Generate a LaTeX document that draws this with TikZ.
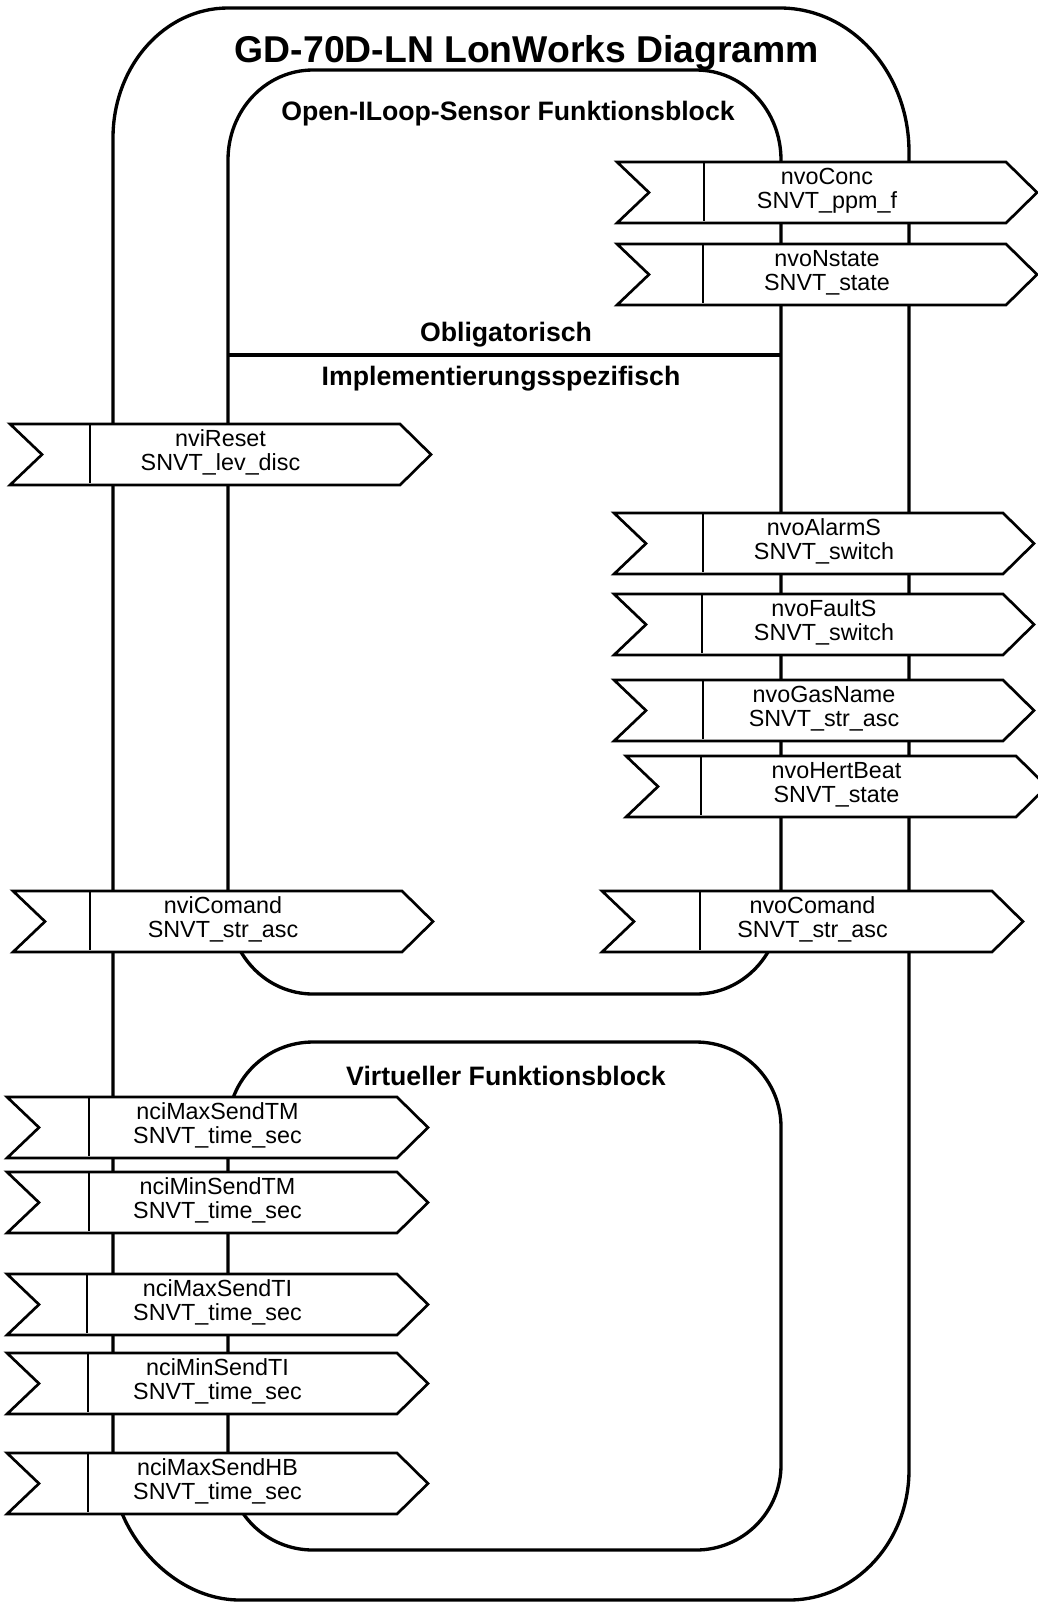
\documentclass[tikz,border=0pt]{standalone}
\usepackage{fontspec}
\setmainfont{Liberation Sans}
\tikzset{
  container/.style={line width=2.5pt, line join=round},
  tagline/.style={line width=2pt},
  tagtext/.style={anchor=base, inner sep=0pt, font=\fontsize{17.5}{18}\selectfont},
  titletext/.style={anchor=base, inner sep=0pt, font=\fontsize{20}{22}\selectfont\bfseries},
}
\newcommand\sigtag[7]{%
  \draw[tagline,fill=white] (#2,#3) -- (#5,#3) -- ({#5+31},{#3+30.5}) -- (#5,{#3+61}) -- (#2,{#3+61}) -- ({#2+32},{#3+30.5}) -- cycle;
  \draw[tagline] (#4,{#3-1}) -- (#4,{#3+59});
  \node[tagtext] (#1-a) at ({(#2+#5+31)/2},{#3+22}) {#6};
  \node[tagtext] (#1-b) at ({(#2+#5+31)/2},{#3+46}) {#7};
}
\begin{document}
\begin{tikzpicture}[x=0.75pt, y=-0.75pt]
\useasboundingbox (0,0) rectangle (1038,1603);
\fill[white] (0,0) rectangle (1038,1603);
% outer box
\draw[container] (113,138) .. controls (113,66) and (164.5,8) .. (228,8)
  -- (780,8) .. controls (851,8) and (909,72) .. (909,152)
  -- (909,1470) .. controls (909,1542) and (855,1600) .. (789,1600)
  -- (240,1600) .. controls (170,1600) and (113,1529) .. (113,1471) -- cycle;
% Open-ILoop-Sensor block
\draw[container] (228,160) .. controls (228,110) and (266,70) .. (313,70)
  -- (696,70) .. controls (743,70) and (781,110) .. (781,160)
  -- (781,904) .. controls (781,954) and (743,994) .. (696,994)
  -- (313,994) .. controls (266,994) and (228,954) .. (228,904) -- cycle;
% divider
\coordinate (divL) at (228,355);
\coordinate (divR) at (781,355);
\draw[line width=3pt] (divL) -- (divR);
% virtual block
\draw[container] (228,1127) .. controls (228,1080) and (266,1042) .. (313,1042)
  -- (696,1042) .. controls (743,1042) and (781,1080) .. (781,1127)
  -- (781,1465) .. controls (781,1512) and (743,1550) .. (696,1550)
  -- (313,1550) .. controls (266,1550) and (228,1512) .. (228,1465) -- cycle;
% titles
\node[anchor=base, inner sep=0pt, font=\fontsize{28}{30}\selectfont\bfseries] (title) at (527,62) {GD-70D-LN LonWorks Diagramm};
\node[titletext] (openblock) at (508,120) {Open-ILoop-Sensor Funktionsblock};
\node[titletext] (oblig) at (506,341) {Obligatorisch};
\node[titletext] (impl) at (501,385) {Implementierungsspezifisch};
\node[titletext] (virt) at (506,1085) {Virtueller Funktionsblock};
% right tags
\sigtag{nvoConc}{617}{162}{704}{1006}{nvoConc}{SNVT\_ppm\_f}
\sigtag{nvoNstate}{617}{244}{703}{1006}{nvoNstate}{SNVT\_state}
\sigtag{nvoAlarmS}{614}{513}{703}{1003}{nvoAlarmS}{SNVT\_switch}
\sigtag{nvoFaultS}{614}{594}{702}{1003}{nvoFaultS}{SNVT\_switch}
\sigtag{nvoGasName}{614}{680}{703}{1003}{nvoGasName}{SNVT\_str\_asc}
\sigtag{nvoHertBeat}{626}{756}{701}{1016}{nvoHertBeat}{SNVT\_state}
\sigtag{nvoComand}{602}{891}{700}{992}{nvoComand}{SNVT\_str\_asc}
% left tags
\sigtag{nviReset}{10}{424}{90}{400}{nviReset}{SNVT\_lev\_disc}
\sigtag{nviComand}{13}{891}{90}{402}{nviComand}{SNVT\_str\_asc}
\sigtag{nciMaxSendTM}{7}{1097}{89}{397}{nciMaxSendTM}{SNVT\_time\_sec}
\sigtag{nciMinSendTM}{7}{1172}{89}{397}{nciMinSendTM}{SNVT\_time\_sec}
\sigtag{nciMaxSendTI}{7}{1274}{87}{397}{nciMaxSendTI}{SNVT\_time\_sec}
\sigtag{nciMinSendTI}{7}{1353}{88}{397}{nciMinSendTI}{SNVT\_time\_sec}
\sigtag{nciMaxSendHB}{7}{1453}{88}{397}{nciMaxSendHB}{SNVT\_time\_sec}
\end{tikzpicture}
\end{document}
